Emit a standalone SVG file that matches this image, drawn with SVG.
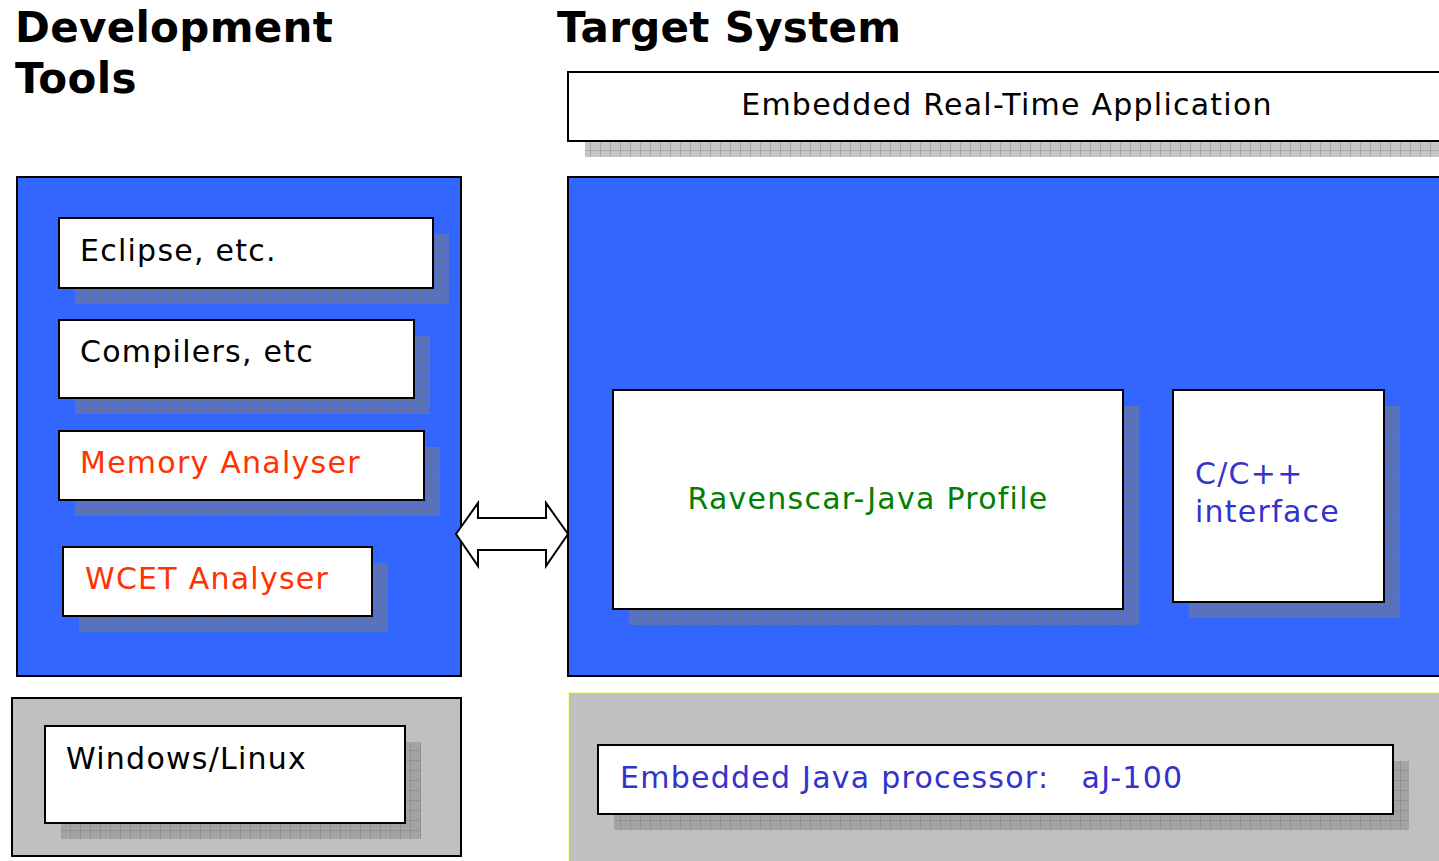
<svg xmlns="http://www.w3.org/2000/svg" width="1439" height="861" viewBox="0 0 1439 861">
<defs>
<pattern id="grid" width="10" height="10" patternUnits="userSpaceOnUse">
<rect width="10" height="10" fill="#808080" fill-opacity="0.45"/>
<path d="M0 0.5H10M0.5 0V10" stroke="#707070" stroke-opacity="0.35" stroke-width="1"/>
</pattern>
</defs>
<style>
.t{font-family:"DejaVu Sans",Verdana,sans-serif;font-size:30px;letter-spacing:1.25px;fill:#000}
.h{font-family:"DejaVu Sans",Verdana,sans-serif;font-size:42px;letter-spacing:0.3px;font-weight:bold;fill:#000}
.box{fill:#fff;stroke:#000;stroke-width:2}
.sh{fill:url(#grid)}
.blue{fill:#3366ff;stroke:#000;stroke-width:2}
.gray{fill:#c0c0c0;stroke:#000;stroke-width:2}
</style>
<rect width="1439" height="861" fill="#fff"/>
<g id="titles">
<text class="h" x="15" y="42">Development</text>
<text class="h" x="15" y="93">Tools</text>
<text class="h" x="557" y="42">Target System</text>
</g>
<g id="app">
<rect class="sh" x="585" y="88" width="870" height="69"/>
<rect class="box" x="568" y="72" width="880" height="69"/>
<text class="t" x="1007" y="115" text-anchor="middle">Embedded Real-Time Application</text>
</g>
<g id="devpanel">
<rect class="blue" x="17" y="177" width="444" height="499"/>
</g>
<g id="targetpanel">
<rect class="blue" x="568" y="177" width="880" height="499"/>
</g>
<g id="eclipse">
<rect class="sh" x="75" y="234" width="374" height="70"/>
<rect class="box" x="59" y="218" width="374" height="70"/>
<text class="t" x="80" y="261">Eclipse, etc.</text>
</g>
<g id="compilers">
<rect class="sh" x="75" y="336" width="355" height="78"/>
<rect class="box" x="59" y="320" width="355" height="78"/>
<text class="t" x="80" y="362">Compilers, etc</text>
</g>
<g id="memory">
<rect class="sh" x="75" y="447" width="365" height="69"/>
<rect class="box" x="59" y="431" width="365" height="69"/>
<text class="t" x="80" y="473" style="fill:#ff3300">Memory Analyser</text>
</g>
<g id="wcet">
<rect class="sh" x="79" y="563" width="309" height="69"/>
<rect class="box" x="63" y="547" width="309" height="69"/>
<text class="t" x="85" y="589" style="fill:#ff3300">WCET Analyser</text>
</g>
<g id="ravenscar">
<rect class="sh" x="629" y="406" width="510" height="219"/>
<rect class="box" x="613" y="390" width="510" height="219"/>
<text class="t" x="868" y="509" text-anchor="middle" style="fill:#008000">Ravenscar-Java Profile</text>
</g>
<g id="cinterface">
<rect class="sh" x="1189" y="406" width="211" height="212"/>
<rect class="box" x="1173" y="390" width="211" height="212"/>
<text class="t" x="1195" y="484" style="fill:#3333cc">C/C++</text>
<text class="t" x="1195" y="522" style="fill:#3333cc">interface</text>
</g>
<g id="hostpanel">
<rect class="gray" x="12" y="698" width="449" height="158"/>
</g>
<g id="windows">
<rect class="sh" x="61" y="742" width="360" height="97"/>
<rect class="box" x="45" y="726" width="360" height="97"/>
<text class="t" x="66" y="769">Windows/Linux</text>
</g>
<g id="hwpanel">
<rect x="568.5" y="692.5" width="880" height="180" fill="#c0c0c0" stroke="#ffff99" stroke-width="1"/>
</g>
<g id="processor">
<rect class="sh" x="614" y="761" width="795" height="69"/>
<rect class="box" x="598" y="745" width="795" height="69"/>
<text class="t" x="620" y="788" style="fill:#3333cc" xml:space="preserve">Embedded Java processor:   aJ-100</text>
</g>
<g id="connectors">
<path d="M456 534 L478 503 L478 518 L546 518 L546 503 L568 534 L546 566 L546 550 L478 550 L478 566 Z" fill="#fff" stroke="#000" stroke-width="2" stroke-linejoin="miter"/>
</g>
</svg>
